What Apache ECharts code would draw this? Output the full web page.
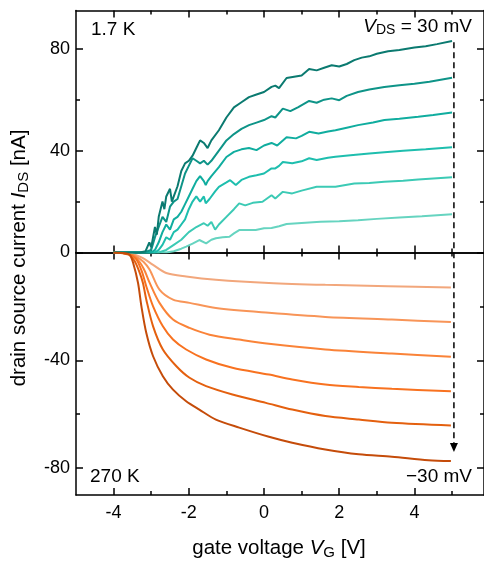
<!DOCTYPE html>
<html>
<head>
<meta charset="utf-8">
<script src="https://cdn.jsdelivr.net/npm/echarts@6/dist/echarts.min.js"></script>
<style>
  html, body { margin: 0; padding: 0; background: #fff; }
  #chart { width: 484px; height: 561px; }
</style>
</head>
<body>
<div id="chart"></div>
<script>
// axis ticks
const xMajor = [-4, -2, 0, 2, 4]
const xMinor = [-3, -1, 1, 3, 5]
const topMajor = [0, 40, 80]
const topMinor = [20, 60]
const botMajor = [0, -40, -80]
const botMinor = [-20, -60]
const botLabels = [-40, -80]

// 1.7 K, V_DS from 30 mV down (gate voltage [V], current [nA])
const teal1 = [[-4, 0], [-3.3, 0], [-3.15, 0.5], [-3.05, 4], [-3.0, 2], [-2.9, 10], [-2.85, 7], [-2.8, 14], [-2.7, 20], [-2.65, 17], [-2.6, 22], [-2.5, 25], [-2.45, 20], [-2.4, 22], [-2.3, 26], [-2.2, 32], [-2.1, 35], [-2.0, 36], [-1.9, 38], [-1.8, 41], [-1.7, 44], [-1.6, 43], [-1.5, 41], [-1.4, 44], [-1.2, 48], [-1.0, 53], [-0.8, 57], [-0.6, 59], [-0.4, 61], [-0.2, 62], [0, 63], [0.2, 65], [0.3, 65.5], [0.4, 64.5], [0.6, 68.5], [0.8, 69], [1.0, 69.5], [1.2, 72], [1.4, 71.5], [1.6, 72.5], [1.8, 73.5], [2.0, 73], [2.2, 74], [2.4, 75.5], [2.6, 76.5], [2.8, 77], [3.0, 78], [3.3, 79], [3.6, 79.5], [4.0, 80.5], [4.3, 81], [4.6, 81.8], [5.0, 83]]
const teal2 = [[-4, 0], [-3.2, 0], [-3.0, 1], [-2.9, 6], [-2.8, 10], [-2.7, 14], [-2.6, 12], [-2.5, 18], [-2.4, 20], [-2.3, 21], [-2.2, 26], [-2.1, 31], [-2.0, 34], [-1.9, 37], [-1.8, 36], [-1.7, 35], [-1.6, 36], [-1.5, 34.5], [-1.4, 36], [-1.2, 40], [-1.0, 44], [-0.8, 46.5], [-0.6, 48.5], [-0.4, 50], [-0.2, 51], [0, 52], [0.2, 53.5], [0.3, 53], [0.5, 56.5], [0.7, 55.5], [0.9, 57], [1.2, 59.5], [1.4, 58.8], [1.6, 60], [1.8, 60.5], [2.0, 59.8], [2.2, 61.5], [2.5, 63], [2.8, 64], [3.2, 65], [3.6, 65.7], [4.0, 66.2], [4.4, 67], [5.0, 68.6]]
const teal3 = [[-4, 0], [-3.0, 0], [-2.9, 1], [-2.8, 4], [-2.7, 8], [-2.6, 11], [-2.5, 9], [-2.4, 13], [-2.3, 14], [-2.2, 16], [-2.1, 19], [-2.0, 22], [-1.9, 25], [-1.8, 28], [-1.7, 30], [-1.6, 28], [-1.55, 26.5], [-1.5, 28], [-1.4, 30], [-1.2, 33.5], [-1.0, 37.5], [-0.8, 39.5], [-0.6, 40.5], [-0.4, 41], [-0.2, 40.2], [0, 42], [0.2, 43], [0.35, 42], [0.6, 45.2], [0.85, 44.8], [1.0, 45.8], [1.2, 47.4], [1.45, 46.7], [1.7, 47.5], [1.9, 48], [2.2, 49], [2.5, 50], [2.9, 51], [3.2, 52], [3.6, 52.5], [4.1, 53.3], [4.5, 54], [5.0, 55]]
const teal4 = [[-4, 0], [-2.9, 0], [-2.8, 1], [-2.7, 3], [-2.6, 6], [-2.5, 5], [-2.4, 8], [-2.3, 9], [-2.2, 11], [-2.1, 13], [-2.0, 17], [-1.9, 20], [-1.8, 22], [-1.7, 20], [-1.6, 22], [-1.55, 19.3], [-1.45, 21], [-1.3, 24], [-1.2, 25.8], [-1.0, 27.5], [-0.9, 28.4], [-0.75, 26.5], [-0.6, 28.5], [-0.4, 29.7], [-0.2, 30.3], [0, 31], [0.2, 33], [0.3, 33], [0.4, 34], [0.5, 35.5], [0.75, 35], [1.0, 35.8], [1.2, 37], [1.4, 36.3], [1.7, 37.2], [1.9, 37.6], [2.3, 38.2], [2.8, 38.9], [3.2, 39.4], [3.7, 39.9], [4.3, 40.5], [5.0, 41.3]]
const teal5 = [[-4, 0], [-2.8, 0], [-2.6, 1], [-2.4, 3], [-2.2, 5], [-2.0, 8], [-1.8, 10], [-1.6, 11.5], [-1.5, 10.5], [-1.4, 12], [-1.3, 9], [-1.2, 11], [-1.0, 14], [-0.8, 17], [-0.66, 19.3], [-0.5, 18.5], [-0.3, 19.5], [-0.04, 19.9], [0.2, 22.5], [0.3, 21.2], [0.5, 23.8], [0.75, 23.2], [1.0, 24.3], [1.4, 25.8], [1.9, 25.8], [2.4, 27.1], [2.8, 27.3], [3.2, 27.8], [3.7, 28.2], [4.1, 28.7], [5.0, 29.5]]
const teal6 = [[-4, 0], [-2.6, 0], [-2.4, 0.5], [-2.2, 1.5], [-2.07, 2.3], [-1.9, 3.5], [-1.72, 4.9], [-1.54, 3.6], [-1.4, 5], [-1.28, 5.6], [-1.1, 6], [-0.92, 6.2], [-0.8, 7.5], [-0.66, 8.8], [-0.4, 8.8], [-0.22, 8.8], [0, 9.5], [0.2, 9.6], [0.4, 10.3], [0.6, 11.2], [0.9, 11.5], [1.2, 11.8], [1.5, 12.1], [2.0, 12.3], [2.5, 12.7], [3.0, 13.2], [3.6, 13.7], [4.2, 14.2], [5.0, 15]]

// 270 K, V_DS from -5 mV down to -30 mV
const orange1 = [[-4, 0], [-3.6, -0.3], [-3.4, -1], [-3.22, -2.1], [-2.95, -4.6], [-2.6, -7.6], [-2.07, -8.9], [-1.28, -10.1], [0.13, -11.3], [1.63, -12], [3.3, -12.5], [4.97, -13]]
const orange2 = [[-4, 0], [-3.6, -0.4], [-3.4, -1.5], [-3.2, -3.5], [-3.04, -6.4], [-2.78, -13.8], [-2.42, -17.5], [-1.98, -18.7], [-1.28, -20.6], [0.13, -22.4], [1.63, -23.9], [3.4, -24.9], [4.97, -25.8]]
const orange3 = [[-4, 0], [-3.6, -0.5], [-3.4, -2], [-3.2, -6], [-3.04, -11.3], [-2.78, -18.7], [-2.42, -24.9], [-1.98, -28], [-1.45, -30.5], [-0.66, -32.3], [0.13, -33.9], [1.63, -36], [3.4, -37.5], [4.97, -38.7]]
const orange4 = [[-4, 0], [-3.6, -0.6], [-3.4, -2.5], [-3.25, -7], [-3.13, -12.6], [-2.95, -20], [-2.69, -27.4], [-2.42, -32.3], [-2.07, -36], [-1.54, -39.7], [-0.84, -42.8], [0.13, -45.3], [0.75, -47.1], [1.63, -49], [2.52, -49.9], [3.4, -50.6], [4.97, -51.5]]
const orange5 = [[-4, 0], [-3.6, -0.8], [-3.45, -3], [-3.32, -7], [-3.22, -11.3], [-3.13, -17.5], [-2.95, -27.4], [-2.69, -36], [-2.33, -42.2], [-1.98, -46.5], [-1.54, -49.6], [-0.84, -52.7], [0.05, -55.8], [0.75, -58.3], [1.63, -60.7], [2.52, -62], [3.4, -63.2], [4.97, -64.2]]
const orange6 = [[-4, 0], [-3.7, -0.3], [-3.57, -0.9], [-3.48, -3.9], [-3.35, -11.3], [-3.26, -20], [-3.13, -29.9], [-2.95, -38.5], [-2.69, -45.9], [-2.42, -50.9], [-2.07, -55.2], [-1.72, -58.3], [-1.28, -62], [-0.66, -65], [0.13, -68.4], [0.75, -70.6], [1.63, -73.1], [2.52, -74.9], [3.4, -75.8], [4.37, -77.1], [4.97, -77.4]]

const tealSeries = [teal1, teal2, teal3, teal4, teal5, teal6]
const orangeSeries = [orange6, orange5, orange4, orange3, orange2, orange1]
const tealColors = ['#0b7a70', '#0e9488', '#10ad9f', '#1ebeae', '#3ccab5', '#66d4c0']
const orangeColors = ['#c54c0a', '#e4600f', '#f87220', '#fa8338', '#f89558', '#f2a77c']

// where the dashed arrow sits
const arrowX = 5.05
const arrowTop = 82.5
const arrowBottom = -74

const FONT = 'Liberation Sans, Arial, sans-serif'
const LINE = { color: '#000', width: 1.5 }

function xAx (grid, pos, ticks, len, line, labels) {
  return {
    type: 'value', gridIndex: grid, position: pos, min: -5, max: 5.85,
    axisLine: { show: line, onZero: false, lineStyle: LINE },
    axisTick: { show: true, inside: true, length: len, customValues: ticks, lineStyle: LINE },
    axisLabel: labels
      ? { show: true, customValues: labels, margin: 9, color: '#000', fontSize: 18, fontFamily: FONT }
      : { show: false },
    splitLine: { show: false }
  }
}

function yAx (grid, pos, min, max, ticks, len, line, labels) {
  return {
    type: 'value', gridIndex: grid, position: pos, min: min, max: max,
    axisLine: { show: line, onZero: false, lineStyle: LINE },
    axisTick: { show: true, inside: true, length: len, customValues: ticks, lineStyle: LINE },
    axisLabel: labels
      ? { show: true, customValues: labels, margin: 6, color: '#000', fontSize: 18, fontFamily: FONT }
      : { show: false },
    splitLine: { show: false }
  }
}

const xAxes = [
  xAx(0, 'bottom', xMajor, 7, true, null),
  xAx(0, 'top', xMajor, 7, true, null),
  xAx(0, 'bottom', xMinor, 4, false, null),
  xAx(0, 'top', xMinor, 4, false, null),
  xAx(1, 'bottom', xMajor, 7, true, xMajor),
  xAx(1, 'top', xMajor, 7, true, null),
  xAx(1, 'bottom', xMinor, 4, false, null),
  xAx(1, 'top', xMinor, 4, false, null)
]

const yAxes = [
  yAx(0, 'left', 0, 95, topMajor, 7, true, topMajor),
  yAx(0, 'right', 0, 95, topMajor, 7, true, null),
  yAx(0, 'left', 0, 95, topMinor, 4, false, null),
  yAx(0, 'right', 0, 95, topMinor, 4, false, null),
  yAx(1, 'left', -90, 0, botMajor, 7, true, botLabels),
  yAx(1, 'right', -90, 0, botMajor, 7, true, null),
  yAx(1, 'left', -90, 0, botMinor, 4, false, null),
  yAx(1, 'right', -90, 0, botMinor, 4, false, null)
]

const series = []
tealSeries.forEach(function (d, i) {
  series.push({
    type: 'line', xAxisIndex: 0, yAxisIndex: 0, data: d, showSymbol: false, symbol: 'none',
    lineStyle: { color: tealColors[i], width: 2 }, z: 3 + (6 - i), silent: true, animation: false
  })
})
orangeSeries.forEach(function (d, i) {
  series.push({
    type: 'line', xAxisIndex: 4, yAxisIndex: 4, data: d, showSymbol: false, symbol: 'none',
    smooth: 0.3,
    lineStyle: { color: orangeColors[i], width: 2 }, z: 3 + (6 - i), silent: true, animation: false
  })
})

const chart = echarts.init(document.getElementById('chart'))
chart.setOption({
  animation: false,
  backgroundColor: '#fff',
  textStyle: { fontFamily: FONT },
  grid: [
    { left: 76, top: 10.5, width: 410, height: 242 },
    { left: 76, top: 252.5, width: 410, height: 242.5 }
  ],
  xAxis: xAxes,
  yAxis: yAxes,
  series: series
})

// dashed arrow and labels
const pTop = chart.convertToPixel({ gridIndex: 0 }, [arrowX, arrowTop])
const pBot = chart.convertToPixel({ gridIndex: 1 }, [arrowX, arrowBottom])
const pZero = chart.convertToPixel({ gridIndex: 1 }, [0, 0])
const txt = { fill: '#000', fontSize: 19, fontFamily: FONT }
const subRich = {
  i: { fontStyle: 'italic', fontSize: 19, fontFamily: FONT },
  s: { fontSize: 14, fontFamily: FONT, padding: [7, 0, 0, 0] },
  n: { fontSize: 19, fontFamily: FONT }
}
const titleRich = {
  i: { fontStyle: 'italic', fontSize: 20.5, fontFamily: FONT },
  s: { fontSize: 15, fontFamily: FONT, padding: [8, 0, 0, 0] },
  n: { fontSize: 20.5, fontFamily: FONT }
}

chart.setOption({
  graphic: [
    {
      type: 'line', z: 20,
      shape: { x1: pTop[0], y1: pTop[1], x2: pBot[0], y2: pBot[1] - 8 },
      style: { stroke: '#000', lineWidth: 1.5, lineDash: [6, 4] }
    },
    {
      type: 'polygon', z: 20,
      shape: { points: [[pBot[0] - 4, pBot[1] - 9], [pBot[0] + 4, pBot[1] - 9], [pBot[0], pBot[1]]] },
      style: { fill: '#000' }
    },
    { type: 'text', left: 91, top: 20, z: 20, style: Object.assign({ text: '1.7 K' }, txt) },
    { type: 'text', left: 90, top: 467, z: 20, style: Object.assign({ text: '270 K' }, txt) },
    { type: 'text', right: 12, top: 467, z: 20, style: Object.assign({ text: '\u221230 mV' }, txt) },
    {
      type: 'text', right: 12, top: 17, z: 20,
      style: { text: '{i|V}{s|DS}{n| = 30 mV}', rich: subRich, fill: '#000' }
    },
    {
      type: 'text', z: 20, x: pZero[0] + 15, y: 537,
      style: {
        text: '{n|gate voltage }{i|V}{s|G}{n| [V]}', rich: titleRich, fill: '#000',
        align: 'center', verticalAlign: 'top'
      }
    },
    {
      type: 'text', z: 20, x: 8, y: 258, rotation: Math.PI / 2,
      style: {
        text: '{n|drain source current }{i|I}{s|DS}{n| [nA]}', rich: titleRich, fill: '#000',
        align: 'center', verticalAlign: 'top'
      }
    }
  ]
})
</script>
</body>
</html>
